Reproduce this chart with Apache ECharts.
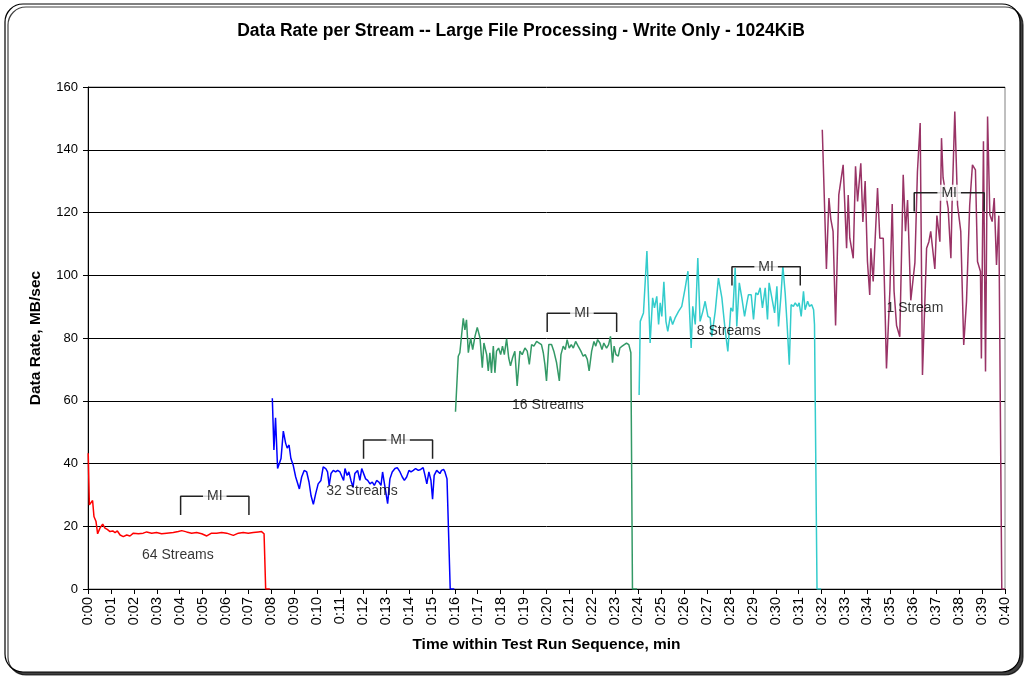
<!DOCTYPE html>
<html>
<head>
<meta charset="utf-8">
<script src="https://cdn.jsdelivr.net/npm/echarts@6/dist/echarts.min.js"></script>
<style>
  html, body { margin:0; padding:0; background:#fff; }
  #chart { width:1028px; height:677px; }
</style>
</head>
<body>
<div id="chart"></div>
<script>
  // time in minutes, data rate in MB/sec
  var streams64 = [[0.01,43.3],[0.06,26.8],[0.13,27.3],[0.20,28.2],[0.26,23.1],[0.35,21.5],[0.42,17.6],[0.52,19.4],
    [0.64,20.7],[0.74,19.4],[0.84,19],[0.96,18.3],[1.08,18.5],[1.18,18],[1.28,18.5],[1.40,17.2],[1.54,16.7],[1.69,17.2],
    [1.83,16.9],[1.98,17.8],[2.20,17.6],[2.41,17.8],[2.56,18.2],[2.78,17.8],[2.99,18],[3.21,17.6],[3.43,17.8],[3.72,18],
    [3.94,18.3],[4.09,18.6],[4.30,18.2],[4.52,17.8],[4.74,18],[4.96,17.6],[5.18,16.9],[5.39,17.8],[5.61,17.8],[5.83,18],
    [6.05,17.8],[6.34,17.1],[6.56,17.8],[6.77,18],[6.99,17.8],[7.21,18],[7.43,18.2],[7.57,18.3],[7.68,17.6],[7.75,0],[7.93,0]];
  var streams32 = [[8.04,60.8],[8.11,44.3],[8.18,54.6],[8.27,38.4],[8.34,37.8],[8.42,41.6],[8.52,50.3],[8.62,46.5],
    [8.69,44.9],[8.77,45.9],[8.85,41.6],[8.95,39.5],[9.06,35.7],[9.13,36.2],[9.22,31.9],[9.32,35.7],[9.43,37.8],[9.54,37.3],
    [9.64,34.1],[9.73,29.7],[9.83,27],[9.93,30.3],[10.04,33.5],[10.16,34.6],[10.26,38.9],[10.37,38.4],[10.45,37.3],[10.52,33],
    [10.60,36.8],[10.70,37.8],[10.80,37.3],[10.89,37.8],[10.99,37.3],[11.06,37.8],[11.15,34.6],[11.21,38.4],[11.30,36.2],
    [11.38,37.3],[11.47,34.6],[11.56,32.4],[11.64,36.8],[11.76,37.8],[11.86,34.6],[11.94,38.4],[12.02,37.8],[12.11,35.1],
    [12.20,34.6],[12.30,33.5],[12.40,34.1],[12.49,33],[12.59,34.6],[12.69,34.1],[12.78,33],[12.85,37.3],[12.92,34.1],
    [13.07,27.2],[13.17,35.1],[13.27,37.3],[13.39,38.4],[13.49,38.7],[13.61,37.3],[13.71,35.7],[13.80,34.6],[13.90,35.7],
    [14.00,37.8],[14.09,37.3],[14.19,37.8],[14.29,38.4],[14.41,37.8],[14.51,38.1],[14.62,38.7],[14.70,36.2],[14.78,33.5],
    [14.87,37.3],[14.96,34.6],[15.03,28.6],[15.10,36.2],[15.21,37.8],[15.28,37.8],[15.35,36.8],[15.42,37.8],[15.51,38.1],
    [15.57,37.3],[15.66,35.1],[15.80,0],[15.98,0]];
  var streams16 = [[16.03,56.5],[16.15,74.2],[16.22,75.3],[16.37,86.3],[16.44,82.6],[16.51,85.8],[16.59,75.3],[16.69,80],
    [16.78,76.3],[16.88,80.5],[16.98,83.4],[17.10,80],[17.20,70.5],[17.27,78.4],[17.39,74.7],[17.46,69.5],[17.53,75.3],
    [17.60,68.9],[17.68,77.4],[17.75,68.9],[17.82,75.8],[17.91,76.8],[18.00,74.7],[18.08,77.4],[18.16,74.7],[18.26,79.7],
    [18.35,73.7],[18.43,71.1],[18.52,73.7],[18.62,75.8],[18.72,64.7],[18.84,75.8],[18.94,74.7],[19.06,76.8],[19.16,75.8],
    [19.25,71.6],[19.35,77.9],[19.45,77.4],[19.57,78.9],[19.68,78.4],[19.78,77.9],[19.86,75.3],[19.93,71.6],[20.00,66.3],
    [20.10,77.9],[20.22,77.9],[20.32,75.8],[20.44,72.1],[20.56,66.3],[20.63,74.7],[20.73,77.4],[20.82,76.3],[20.90,79.5],
    [20.99,76.8],[21.08,77.9],[21.17,76.8],[21.27,78.9],[21.38,77.4],[21.50,75.8],[21.60,74.2],[21.69,74.7],[21.78,73.2],
    [21.86,69.5],[21.97,75.8],[22.07,78.9],[22.15,77.4],[22.23,79.5],[22.33,78.4],[22.42,76.3],[22.50,78.4],[22.62,76.8],
    [22.71,77.9],[22.79,80.5],[22.88,72.1],[22.95,77.4],[23.03,74.7],[23.13,74.2],[23.20,76.8],[23.30,77.4],[23.38,76.8],
    [23.49,78.4],[23.59,77.9],[23.68,75.3],[23.75,0],[23.95,0]];
  var streams8 = [[24.04,61.8],[24.09,85.3],[24.23,88],[24.38,107.7],[24.52,78.4],[24.63,92.8],[24.71,89.6],[24.81,93.3],
    [24.89,84.3],[24.96,91.2],[25.03,86.9],[25.12,97.9],[25.21,85.3],[25.29,82.1],[25.40,86.9],[25.50,84.3],[25.61,86.4],
    [25.76,88.5],[25.90,90.1],[26.05,96],[26.17,101.3],[26.22,91.7],[26.31,76.8],[26.38,90.1],[26.49,84.3],[26.60,105.5],
    [26.70,85.3],[26.82,88.5],[26.92,91.7],[27.04,86.9],[27.14,86.4],[27.21,80.5],[27.36,88.5],[27.50,99.1],[27.65,92.8],
    [27.79,82.7],[27.91,75.7],[28.04,89.6],[28.13,88.5],[28.23,102.3],[28.30,83.7],[28.41,97.6],[28.52,92.8],[28.64,86.9],
    [28.74,91.2],[28.81,93.8],[28.93,93.8],[29.03,85.9],[29.13,94.4],[29.22,93.8],[29.32,96],[29.42,89.6],[29.54,96],
    [29.64,85.9],[29.71,97.6],[29.83,92.8],[29.95,88],[30.05,96.5],[30.12,83.7],[30.22,92.8],[30.31,102.9],[30.41,94.4],
    [30.50,83.7],[30.59,71.5],[30.67,90.6],[30.77,90.1],[30.85,91.2],[30.95,90.1],[31.02,91.2],[31.11,86.9],[31.21,94.9],
    [31.28,89],[31.39,91.7],[31.47,90.1],[31.57,90.6],[31.65,89],[31.69,84.3],[31.80,0],[31.98,0]];
  var streams1 = [[32.03,146.4],[32.21,102],[32.32,124.6],[32.40,118],[32.50,114],[32.61,84],[32.75,125.6],[32.94,135.2],
    [33.09,108.6],[33.16,125.6],[33.23,111.8],[33.38,105.4],[33.48,134.7],[33.57,123.5],[33.71,135.7],[33.80,117],[33.90,130],
    [34.00,104.4],[34.10,93.7],[34.15,108.6],[34.25,98],[34.44,127.8],[34.54,111.8],[34.69,111.8],[34.76,91.6],[34.83,70.3],
    [34.98,95.3],[35.08,122.7],[35.16,95],[35.27,84],[35.41,80.4],[35.56,132],[35.66,114],[35.75,124],[35.89,92],[36.07,104],
    [36.18,133],[36.30,148.5],[36.40,68.2],[36.58,108.6],[36.68,110.7],[36.76,114],[36.94,102],[37.03,119],[37.16,110.7],
    [37.23,143.7],[37.30,131],[37.37,131.5],[37.52,121.4],[37.64,105.4],[37.69,122.4],[37.81,152.2],[37.93,122.4],[38.07,114],
    [38.20,77.8],[38.32,91.6],[38.46,122.4],[38.58,135.2],[38.71,133.6],[38.80,104.4],[38.93,101.2],[38.97,73.5],[39.06,142.7],
    [39.15,69.3],[39.24,150.6],[39.34,119.3],[39.44,117.1],[39.53,124.6],[39.63,103.3],[39.73,119],[39.86,0],[40,0]];

  var seriesNames = ['64 Streams', '32 Streams', '16 Streams', '8 Streams', '1 Stream'];
  var seriesColors = ['#ff0000', '#0000ff', '#339966', '#33cccc', '#993366'];
  // [x label pos, y label pos, text]
  var streamLabels = [[3.92,10.8,'64 Streams'],[11.95,31.2,'32 Streams'],[20.06,58.6,'16 Streams'],[27.95,82.2,'8 Streams'],[36.07,89.6,'1 Stream']];
  // measurement interval brackets: [from, to, top]
  var miBrackets = [[4.04,7.02,29.6],[12.02,15.03,47.5],[20.03,23.06,87.9],[28.09,31.07,102.7],[36.04,39.09,126.3]];

  var FONT = '"Liberation Sans", Arial, sans-serif';
  var myChart = echarts.init(document.getElementById('chart'));

  var series = [streams64, streams32, streams16, streams8, streams1].map(function (d, i) {
    return {
      name: seriesNames[i],
      type: 'line',
      data: d,
      symbol: 'none',
      lineStyle: { color: seriesColors[i], width: 1.5 },
      z: 3
    };
  });

  miBrackets.forEach(function (b) {
    series.push({
      type: 'line',
      data: [[b[0], b[2] - 6], [b[0], b[2]], [b[1], b[2]], [b[1], b[2] - 6]],
      symbol: 'none',
      lineStyle: { color: '#222', width: 1.5 },
      z: 4
    });
  });

  series.push({
    type: 'scatter',
    symbolSize: 0,
    data: miBrackets.map(function (b) { return [(b[0] + b[1]) / 2, b[2], 'MI']; }),
    label: {
      show: true, position: 'inside', formatter: function (p) { return p.value[2]; },
      color: '#000', fontSize: 14, fontFamily: FONT, backgroundColor: '#fff', padding: [1, 4]
    },
    z: 6
  });

  series.push({
    type: 'scatter',
    symbolSize: 0,
    data: streamLabels,
    label: {
      show: true, position: 'inside', formatter: function (p) { return p.value[2]; },
      color: '#000', fontSize: 14, fontFamily: FONT
    },
    z: 5
  });

  var option = {
    animation: false,
    backgroundColor: '#fff',
    graphic: [{
      type: 'rect', z: -10, silent: true,
      shape: { x: 5, y: 4, width: 1015, height: 668, r: 18 },
      style: { fill: '#fff', stroke: '#000', lineWidth: 1.2, shadowColor: 'rgba(0,0,0,0.75)', shadowOffsetX: 3, shadowOffsetY: 3 }
    }, {
      type: 'text', x: 521, y: 22, z: 10,
      style: { text: 'Data Rate per Stream -- Large File Processing - Write Only - 1024KiB', font: 'bold 17.5px ' + FONT, fill: '#000', align: 'center', textAlign: 'center' }
    }],
    grid: { left: 88, right: 23, top: 87, bottom: 88, show: true, borderColor: '#808080', borderWidth: 1 },
    xAxis: {
      type: 'value', min: 0, max: 40, interval: 1,
      name: 'Time within Test Run Sequence, min', nameLocation: 'middle', nameGap: 48,
      nameTextStyle: { fontFamily: FONT, fontSize: 15.5, fontWeight: 'bold', color: '#000' },
      axisLine: { lineStyle: { color: '#000', width: 1 } },
      axisTick: { length: 5, lineStyle: { color: '#000' } },
      splitLine: { show: false },
      axisLabel: {
        rotate: 90, margin: 8, color: '#000', fontSize: 14.5, fontFamily: FONT,
        formatter: function (v) { return '0:' + (v < 10 ? '0' + v : v); }
      }
    },
    yAxis: {
      type: 'value', min: 0, max: 160, interval: 20,
      name: 'Data Rate, MB/sec', nameLocation: 'middle', nameGap: 44,
      nameTextStyle: { fontFamily: FONT, fontSize: 15.5, fontWeight: 'bold', color: '#000' },
      axisLine: { show: true, lineStyle: { color: '#000', width: 1 } },
      axisTick: { show: true, length: 5, lineStyle: { color: '#000' } },
      splitLine: { lineStyle: { color: '#000', width: 1 } },
      axisLabel: { margin: 10, color: '#000', fontSize: 13, fontFamily: FONT }
    },
    series: series
  };
  myChart.setOption(option);
</script>
</body>
</html>
